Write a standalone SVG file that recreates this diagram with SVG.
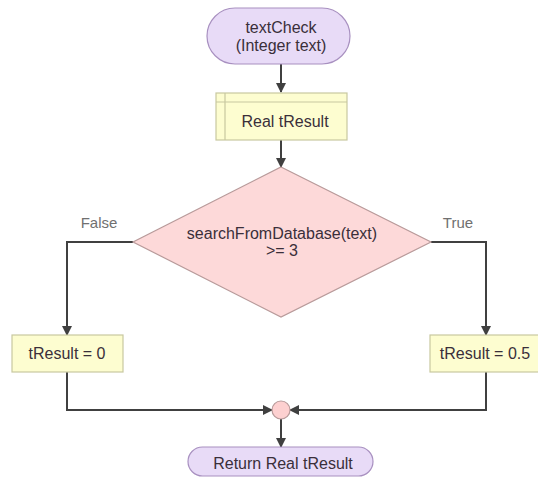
<svg xmlns="http://www.w3.org/2000/svg" width="538" height="484" viewBox="0 0 538 484">
<defs>
<marker id="ah" viewBox="0 0 10 10" refX="9" refY="5" markerWidth="10" markerHeight="10" markerUnits="userSpaceOnUse" orient="auto">
<path d="M0,0 L10,5 L0,10 z" fill="#404040"/>
</marker>
<style>
.t{font-family:"Liberation Sans",Arial,sans-serif;font-size:16px;fill:#3a2f3a;text-anchor:middle}
.lbl{font-family:"Liberation Sans",Arial,sans-serif;font-size:15px;fill:#707070;text-anchor:middle}
.term{fill:#e8dbf7;stroke:#a890c0;stroke-width:1.2}
.box{fill:#fdfdd0;stroke:#c8c8a0;stroke-width:1.2}
.dia{fill:#fdd9d9;stroke:#b89a9a;stroke-width:1.2}
.con{fill:none;stroke:#404040;stroke-width:2;marker-end:url(#ah)}
</style>
</defs>
<rect width="538" height="484" fill="#ffffff"/>
<g id="connectors">
<path class="con" d="M281,64 L281,92"/>
<path class="con" d="M281,140 L281,167"/>
<path class="con" d="M133,242 L67,242 L67,335"/>
<path class="con" d="M431,242 L486,242 L486,335"/>
<path class="con" d="M67,372 L67,410 L272,410"/>
<path class="con" d="M486,372 L486,410 L290,410"/>
<path class="con" d="M281,419 L281,447"/>
</g>
<g id="start">
<rect class="term" x="207" y="8" width="143" height="56" rx="28" ry="28"/>
<text class="t" x="281" y="33">textCheck</text>
<text class="t" x="281" y="51">(Integer text)</text>
</g>
<g id="declare">
<rect class="box" x="216" y="93" width="131" height="47"/>
<path d="M225,93 L225,140 M216,102 L347,102" stroke="#c8c8a0" stroke-width="1.2" fill="none"/>
<text class="t" x="285" y="127">Real tResult</text>
</g>
<g id="decision">
<polygon class="dia" points="281,167 431,242 281,317 133,242"/>
<text class="t" x="282" y="239">searchFromDatabase(text)</text>
<text class="t" x="282" y="256">&gt;= 3</text>
</g>
<g id="falselabel"><text class="lbl" x="99" y="228">False</text></g>
<g id="truelabel"><text class="lbl" x="458" y="228">True</text></g>
<g id="assign0">
<rect class="box" x="12" y="335" width="111" height="37"/>
<text class="t" x="67" y="359">tResult = 0</text>
</g>
<g id="assign05">
<rect class="box" x="430" y="335" width="112" height="37"/>
<text class="t" x="485" y="359">tResult = 0.5</text>
</g>
<g id="merge">
<circle cx="281" cy="410" r="9" fill="#fdd0d0" stroke="#b89a9a" stroke-width="1.2"/>
</g>
<g id="end">
<rect class="term" x="188" y="447" width="185" height="29" rx="14.5" ry="14.5"/>
<text class="t" x="283" y="469">Return Real tResult</text>
</g>
</svg>
